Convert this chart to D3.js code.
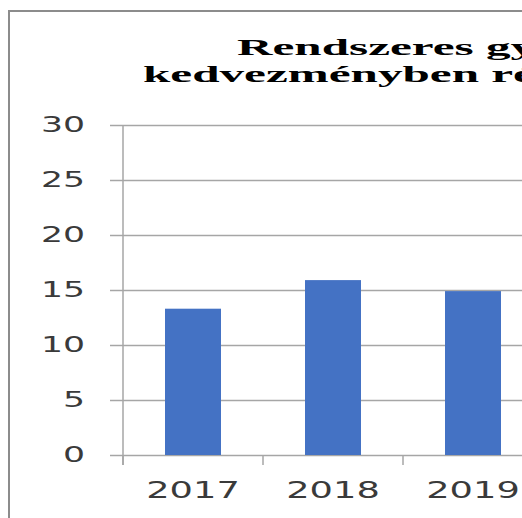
<!DOCTYPE html>
<html>
<head>
<meta charset="utf-8">
<script src="https://cdn.jsdelivr.net/npm/d3@7"></script>
<style>
  html, body { margin: 0; padding: 0; background: #fff; overflow: hidden; }
  svg { display: block; }
</style>
</head>
<body>
<script>
const years = ['2017', '2018', '2019'];
const values = [13.3, 15.9, 14.9];
const yTicks = [0, 5, 10, 15, 20, 25, 30];
const titleLines = ['Rendszeres gyermekvédelmi', 'kedvezményben részesülők száma'];

const width = 522;
const height = 518;
const plot = { left: 123, top: 125, bottom: 455, right: 543 };
// the source picture is stretched sideways, so text is widened too
const sxTick = 1.65;
const sxTitle = 2.05;

const svg = d3.select('body').append('svg')
  .attr('width', width)
  .attr('height', height)
  .attr('xmlns', 'http://www.w3.org/2000/svg');

// chart frame (runs off the right and bottom edge)
svg.append('rect')
  .attr('x', 9)
  .attr('y', 11)
  .attr('width', 700)
  .attr('height', 700)
  .attr('fill', '#fff')
  .attr('stroke', '#8c8c8c')
  .attr('stroke-width', 2);

const x = d3.scaleBand()
  .domain(years)
  .range([plot.left, plot.right])
  .paddingInner(0.6)
  .paddingOuter(0.3);

const y = d3.scaleLinear()
  .domain([0, 30])
  .range([plot.bottom, plot.top]);

// gridlines + y labels
const yAxis = svg.append('g')
  .attr('transform', 'translate(110,0)')
  .call(d3.axisLeft(y).tickValues(yTicks).tickSize(-600).tickPadding(24));
yAxis.select('.domain').remove();
yAxis.selectAll('.tick line')
  .attr('stroke', '#a6a6a6')
  .attr('stroke-width', 1.5);
yAxis.selectAll('.tick text')
  .attr('font-family', '"DejaVu Sans", Verdana, sans-serif')
  .attr('font-size', 21)
  .attr('fill', '#3a3a3a')
  .attr('x', -25 / sxTick)
  .attr('transform', `scale(${sxTick},1)`);

// bars
svg.append('g')
  .selectAll('rect')
  .data(years)
  .join('rect')
  .attr('x', d => x(d))
  .attr('y', (d, i) => y(values[i]))
  .attr('width', x.bandwidth())
  .attr('height', (d, i) => y(0) - y(values[i]))
  .attr('fill', '#4472c4');

// vertical axis line
svg.append('line')
  .attr('x1', plot.left)
  .attr('x2', plot.left)
  .attr('y1', y(30))
  .attr('y2', y(0) + 10)
  .attr('stroke', '#a6a6a6')
  .attr('stroke-width', 1.5);

// category boundary ticks
const gap = x.step() - x.bandwidth();
const bounds = years.map(d => x(d) - gap / 2).concat([plot.right]);
svg.append('g')
  .selectAll('line')
  .data(bounds)
  .join('line')
  .attr('x1', d => d)
  .attr('x2', d => d)
  .attr('y1', y(0))
  .attr('y2', y(0) + 10)
  .attr('stroke', '#a6a6a6')
  .attr('stroke-width', 1.5);

// x labels
const xAxis = svg.append('g')
  .attr('transform', `translate(0,${y(0)})`)
  .call(d3.axisBottom(x).tickSize(0).tickPadding(27));
xAxis.select('.domain').remove();
xAxis.selectAll('.tick text')
  .attr('font-family', '"DejaVu Sans", Verdana, sans-serif')
  .attr('font-size', 23)
  .attr('fill', '#3a3a3a')
  .attr('transform', `scale(1.6,1)`);

// title, cut by the right edge like the source
const titlePos = [[237, 55], [143, 82]];
titleLines.forEach((t, i) => {
  svg.append('text')
    .attr('transform', `translate(${titlePos[i][0]},${titlePos[i][1]}) scale(${sxTitle},1)`)
    .attr('font-family', '"Liberation Serif", "Times New Roman", serif')
    .attr('font-weight', 'bold')
    .attr('font-size', 24)
    .attr('fill', '#000')
    .text(t);
});
</script>
</body>
</html>
